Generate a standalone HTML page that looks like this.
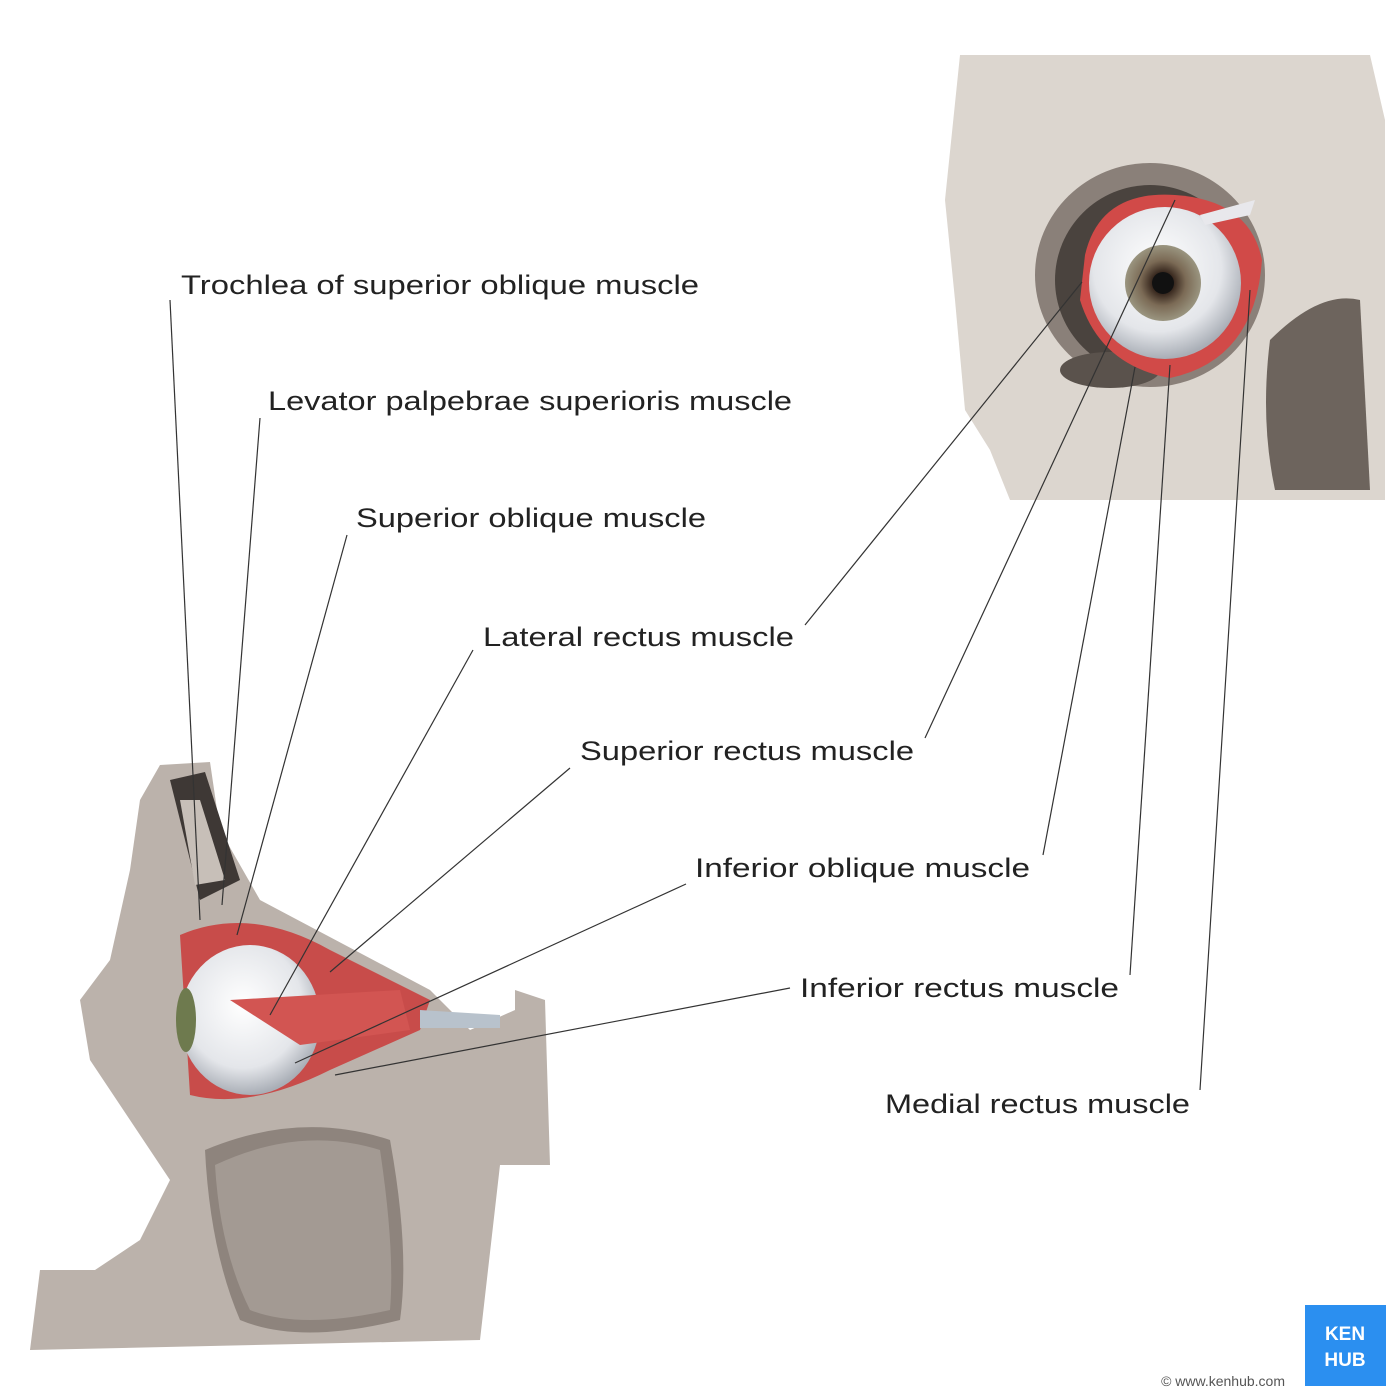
<!DOCTYPE html>
<html><head><meta charset="utf-8"><style>
html,body{margin:0;padding:0;background:#fff}
svg{display:block}
text{font-family:"Liberation Sans",sans-serif;font-size:27px;fill:#222}
</style></head><body>
<svg width="1400" height="1400" viewBox="0 0 1400 1400" xmlns="http://www.w3.org/2000/svg">
<defs>
<radialGradient id="eye" cx="0.45" cy="0.4" r="0.6"><stop offset="0" stop-color="#ffffff"/><stop offset="0.7" stop-color="#e4e6ea"/><stop offset="1" stop-color="#a9aeb6"/></radialGradient>
<radialGradient id="iris" cx="0.5" cy="0.5" r="0.5"><stop offset="0" stop-color="#222"/><stop offset="0.3" stop-color="#3a2a20"/><stop offset="0.6" stop-color="#7b6a55"/><stop offset="1" stop-color="#9a9580"/></radialGradient>
</defs>
<!-- right skull -->
<path d="M960,55 L1370,55 L1385,120 L1385,500 L1010,500 L990,450 L965,410 L955,300 L945,200 Z" fill="#dcd6cf"/>
<path d="M1270,340 Q1320,290 1360,300 L1370,490 L1275,490 Q1260,420 1270,340 Z" fill="#6d645d"/>
<ellipse cx="1150" cy="275" rx="115" ry="112" fill="#8a8079"/>
<ellipse cx="1150" cy="280" rx="95" ry="95" fill="#4a433e"/>
<ellipse cx="1110" cy="370" rx="50" ry="18" fill="#5a524c"/>
<path d="M1085,255 Q1100,190 1175,195 Q1250,200 1262,260 Q1255,360 1170,378 Q1100,365 1080,300 Z" fill="#d14a48"/>
<circle cx="1165" cy="283" r="76" fill="url(#eye)"/>
<circle cx="1163" cy="283" r="38" fill="url(#iris)"/>
<circle cx="1163" cy="283" r="11" fill="#111"/>
<path d="M1200,215 L1255,200 L1250,215 L1205,225 Z" fill="#e8e8ec"/>
<!-- left skull -->
<path d="M160,765 L210,762 L220,830 L260,900 L430,990 L470,1030 L515,1010 L515,990 L545,1000 L550,1165 L500,1165 L480,1340 L30,1350 L40,1270 L95,1270 L140,1240 L170,1180 L130,1120 L90,1060 L80,1000 L110,960 L130,870 L140,800 Z" fill="#bbb2ab"/>
<path d="M170,780 L205,772 L240,880 L200,900 Z" fill="#3e3835"/>
<path d="M180,800 L200,800 L225,880 L195,885 Z" fill="#c7bfb8"/>
<path d="M205,1150 Q300,1110 390,1140 Q410,1250 400,1320 Q300,1345 240,1320 Q210,1250 205,1150 Z" fill="#8e847d"/>
<path d="M215,1165 Q300,1125 380,1150 Q395,1250 390,1310 Q300,1330 250,1310 Q220,1250 215,1165 Z" fill="#a39a93"/>
<path d="M180,935 Q250,905 330,950 L430,1000 L420,1030 L330,1070 Q250,1110 190,1095 Z" fill="#c84c4a"/>
<ellipse cx="250" cy="1020" rx="70" ry="75" fill="url(#eye)"/>
<ellipse cx="186" cy="1020" rx="10" ry="32" fill="#6e7a4e"/>
<path d="M230,1000 L400,990 L410,1030 L300,1045 Z" fill="#d25552"/>
<path d="M420,1010 L500,1015 L500,1028 L420,1028 Z" fill="#b8c2cc"/>
<!-- kenhub logo -->
<rect x="1305" y="1305" width="81" height="81" fill="#2b8ff0"/>
<text x="1345" y="1340" text-anchor="middle" style="font-size:19px;fill:#fff;font-weight:bold">KEN</text>
<text x="1345" y="1366" text-anchor="middle" style="font-size:19px;fill:#fff;font-weight:bold">HUB</text>
<text x="1285" y="1386" text-anchor="end" style="font-size:14px;fill:#555">© www.kenhub.com</text>
<!-- leader lines -->
<g stroke="#333" stroke-width="1.2" fill="none">
<line x1="170" y1="300" x2="200" y2="920"/>
<line x1="260" y1="418" x2="222" y2="905"/>
<line x1="347" y1="535" x2="237" y2="935"/>
<line x1="473" y1="650" x2="270" y2="1015"/>
<line x1="570" y1="768" x2="330" y2="972"/>
<line x1="686" y1="884" x2="295" y2="1063"/>
<line x1="790" y1="988" x2="335" y2="1075"/>
<line x1="805" y1="625" x2="1082" y2="282"/>
<line x1="925" y1="738" x2="1175" y2="200"/>
<line x1="1043" y1="855" x2="1135" y2="367"/>
<line x1="1130" y1="975" x2="1170" y2="365"/>
<line x1="1200" y1="1090" x2="1250" y2="290"/>
</g>
<text x="181" y="294" textLength="518" lengthAdjust="spacingAndGlyphs">Trochlea of superior oblique muscle</text>
<text x="268" y="410" textLength="524" lengthAdjust="spacingAndGlyphs">Levator palpebrae superioris muscle</text>
<text x="356" y="527" textLength="350" lengthAdjust="spacingAndGlyphs">Superior oblique muscle</text>
<text x="483" y="646" textLength="311" lengthAdjust="spacingAndGlyphs">Lateral rectus muscle</text>
<text x="580" y="760" textLength="334" lengthAdjust="spacingAndGlyphs">Superior rectus muscle</text>
<text x="695" y="877" textLength="335" lengthAdjust="spacingAndGlyphs">Inferior oblique muscle</text>
<text x="800" y="997" textLength="319" lengthAdjust="spacingAndGlyphs">Inferior rectus muscle</text>
<text x="885" y="1113" textLength="305" lengthAdjust="spacingAndGlyphs">Medial rectus muscle</text>
</svg>
</body></html>
